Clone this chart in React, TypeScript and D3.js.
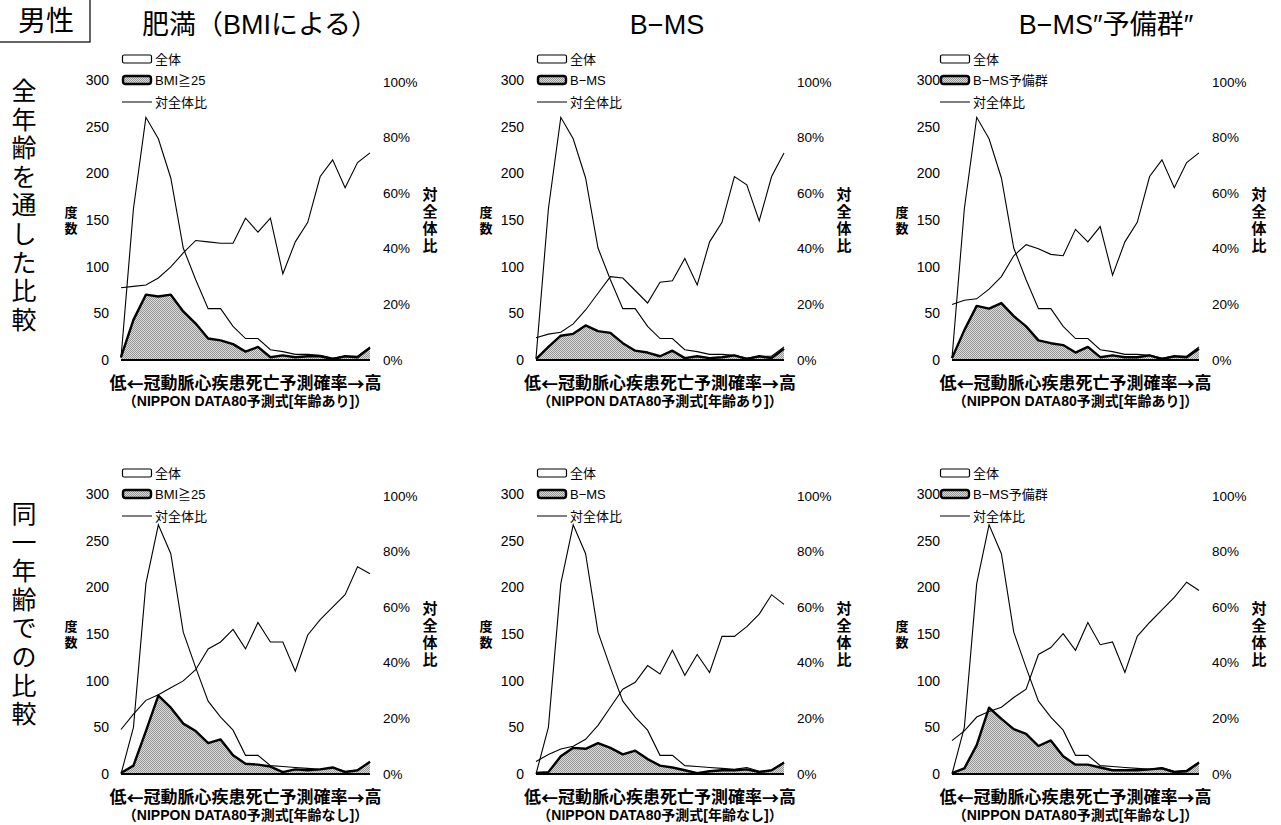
import React, { useEffect, useRef } from 'react';
import * as d3 from 'd3';

// risk bins (low -> high predicted CHD death probability)
const riskBins = [1, 2, 3, 4, 5, 6, 7, 8, 9, 10, 11, 12, 13, 14, 15, 16, 17, 18, 19, 20, 21];

const leftTicks = [0, 50, 100, 150, 200, 250, 300];
const rightTicks = [0, 20, 40, 60, 80, 100];

// 全年齢を通した比較 (with age)
const totalWithAge = [2, 162, 260, 237, 195, 120, 86, 55, 55, 36, 23, 23, 11, 9, 6, 6, 5, 2, 4, 4, 14];
const bmiWithAge = [3, 43, 70, 68, 70, 52, 39, 23, 21, 17, 9, 14, 3, 5, 3, 4, 4, 1, 4, 3, 13];
const bmiRatioWithAge = [26, 26.5, 27, 29.5, 33.5, 38.5, 43, 42.5, 42, 42, 51, 46, 51, 31, 42.5, 49.5, 66, 72, 62, 71, 74.5];
const bmsWithAge = [1, 14, 26, 28, 37, 31, 29, 18, 10, 8, 4, 10, 2, 4, 2, 3, 5, 1, 4, 2, 12];
const bmsRatioWithAge = [8, 9.3, 10, 13, 18, 24, 30, 29.5, 25, 20.5, 28, 28.5, 36.5, 27, 42.5, 49.5, 66, 63, 50, 66, 74.5];
const preWithAge = [2, 32, 58, 55, 61, 47, 36, 21, 18, 16, 8, 14, 3, 5, 3, 3, 5, 1, 4, 3, 12];
const preRatioWithAge = [20, 21.5, 22, 25.5, 30, 37.5, 41.5, 40, 38, 37.5, 47, 42.5, 48, 30.5, 42.5, 49.5, 66, 72, 62, 71, 74.5];

// 同一年齢での比較 (without age)
const totalNoAge = [0, 50, 204, 267, 236, 152, 114, 78, 61, 47, 20, 20, 9, 8, 7, 6, 5, 7, 3, 4, 13];
const bmiNoAge = [1, 9, 46, 84, 71, 54, 46, 33, 37, 20, 11, 10, 8, 2, 5, 4, 5, 7, 2, 4, 13];
const bmiRatioNoAge = [16, 21.5, 26.5, 28.5, 31, 33.5, 37.5, 45, 47.5, 52, 45, 54.5, 47.5, 47.5, 37, 50, 55.5, 60, 64.5, 74.5, 72];
const bmsNoAge = [1, 2, 19, 28, 27, 33, 28, 21, 25, 16, 9, 7, 4, 1, 3, 4, 4, 5, 2, 4, 12];
const bmsRatioNoAge = [4.5, 7, 9, 10, 12.5, 17.5, 24, 30.5, 33, 39, 36, 44.5, 35.5, 43, 36.5, 49.5, 49.5, 53, 57.5, 64.5, 61];
const preNoAge = [1, 6, 31, 71, 59, 48, 43, 30, 36, 19, 10, 10, 7, 4, 4, 4, 5, 6, 2, 3, 12];
const preRatioNoAge = [12, 15.5, 20.5, 22.5, 24, 27.5, 30.5, 43, 45.5, 50.5, 44.5, 54.5, 46.5, 47.5, 36.5, 49.5, 54.5, 59, 63.5, 69, 66];

const columnTitles = ['肥満（BMIによる）', 'B−MS', 'B−MS″予備群″'];
const subgroupNames = ['BMI≧25', 'B−MS', 'B−MS予備群'];
const rowTitles = ['全年齢を通した比較', '同一年齢での比較'];
const xTitleParts = ['低', '←', '冠動脈心疾患死亡予測確率', '→', '高'];
const xNotes = ['（NIPPON DATA80予測式[年齢あり]）', '（NIPPON DATA80予測式[年齢なし]）'];

const FONT = "'Liberation Sans', 'Noto Sans CJK JP', sans-serif";
const JP = "'Noto Sans CJK JP', sans-serif";

const App = () => {
  const svgRef = useRef<SVGSVGElement>(null);

  useEffect(() => {
    const width = 1281;
    const height = 825;
    const svg = d3.select(svgRef.current);
    svg.selectAll('*').remove();
    svg.attr('viewBox', [0, 0, width, height]);

    // dotted grey fill like the printed screen tone
    const pat = svg.append('defs').append('pattern')
      .attr('id', 'tone')
      .attr('width', 2).attr('height', 2)
      .attr('patternUnits', 'userSpaceOnUse');
    pat.append('rect').attr('width', 2).attr('height', 2).attr('fill', '#dcdcdc');
    pat.append('rect').attr('width', 1).attr('height', 1).attr('fill', '#959595');
    pat.append('rect').attr('x', 1).attr('y', 1).attr('width', 1).attr('height', 1).attr('fill', '#959595');

    // header
    svg.append('rect')
      .attr('x', -2).attr('y', -2).attr('width', 92).attr('height', 44)
      .attr('fill', 'none').attr('stroke', '#000').attr('stroke-width', 1.2);
    svg.append('text')
      .attr('x', 46).attr('y', 19)
      .attr('text-anchor', 'middle').attr('dominant-baseline', 'central')
      .style('font-family', JP).style('font-size', '28px')
      .text('男性');

    const titleX = [260, 667, 1106];
    columnTitles.forEach((t, i) => {
      svg.append('text')
        .attr('x', titleX[i]).attr('y', 25)
        .attr('text-anchor', 'middle').attr('dominant-baseline', 'central')
        .style('font-family', FONT).style('font-size', '27px')
        .text(t);
    });

    // row titles (vertical)
    const rowTop = [77, 500];
    rowTitles.forEach((t, r) => {
      Array.from(t).forEach((ch, k) => {
        svg.append('text')
          .attr('x', 24).attr('y', rowTop[r] + 14 + k * 28.6)
          .attr('text-anchor', 'middle').attr('dominant-baseline', 'central')
          .style('font-family', FONT).style('font-size', '25px')
          .text(ch);
      });
    });

    const cols = [
      { x0: 121, x1: 370, legendX: 122 },
      { x0: 536, x1: 784, legendX: 537 },
      { x0: 952, x1: 1199, legendX: 940 },
    ];
    const rows = [{ y0: 360 }, { y0: 774 }];

    const panels = [
      { r: 0, c: 0, total: totalWithAge, sub: bmiWithAge, ratio: bmiRatioWithAge },
      { r: 0, c: 1, total: totalWithAge, sub: bmsWithAge, ratio: bmsRatioWithAge },
      { r: 0, c: 2, total: totalWithAge, sub: preWithAge, ratio: preRatioWithAge },
      { r: 1, c: 0, total: totalNoAge, sub: bmiNoAge, ratio: bmiRatioNoAge },
      { r: 1, c: 1, total: totalNoAge, sub: bmsNoAge, ratio: bmsRatioNoAge },
      { r: 1, c: 2, total: totalNoAge, sub: preNoAge, ratio: preRatioNoAge },
    ];

    panels.forEach(p => {
      const { x0, x1, legendX } = cols[p.c];
      const { y0 } = rows[p.r];
      const g = svg.append('g');

      const x = d3.scalePoint<number>().domain(riskBins).range([x0, x1]);
      const y = d3.scaleLinear().domain([0, 300]).range([y0, y0 - 280]);
      const yr = d3.scaleLinear().domain([0, 100]).range([y0, y0 - 278]);

      const area = (vals: number[]) => d3.area<number>()
        .x((_, i) => x(riskBins[i])!)
        .y0(y0)
        .y1(d => y(d))(vals);
      const line = (vals: number[], sc: d3.ScaleLinear<number, number>) => d3.line<number>()
        .x((_, i) => x(riskBins[i])!)
        .y(d => sc(d))(vals);

      // total (white) area
      g.append('path').attr('d', area(p.total)).attr('fill', '#fff');
      // subgroup toned area
      g.append('path').attr('d', area(p.sub)).attr('fill', 'url(#tone)');
      g.append('path').attr('d', line(p.sub, y))
        .attr('fill', 'none').attr('stroke', '#000').attr('stroke-width', 2.4)
        .attr('stroke-linejoin', 'round');
      g.append('path').attr('d', line(p.total, y))
        .attr('fill', 'none').attr('stroke', '#000').attr('stroke-width', 1.1);
      // ratio line
      g.append('path').attr('d', line(p.ratio, yr))
        .attr('fill', 'none').attr('stroke', '#000').attr('stroke-width', 1.1);

      // baseline
      g.append('line')
        .attr('x1', x0).attr('x2', x1).attr('y1', y0).attr('y2', y0)
        .attr('stroke', '#000').attr('stroke-width', 2.2);

      // left ticks
      g.append('g').selectAll('text').data(leftTicks).join('text')
        .attr('x', x0 - 12).attr('y', d => y(d))
        .attr('text-anchor', 'end').attr('dominant-baseline', 'central')
        .style('font-family', FONT).style('font-size', '14px')
        .text(d => d);
      // right ticks
      g.append('g').selectAll('text').data(rightTicks).join('text')
        .attr('x', x1 + 13).attr('y', d => yr(d))
        .attr('dominant-baseline', 'central')
        .style('font-family', FONT).style('font-size', '13.5px')
        .text(d => `${d}%`);

      const mid = y0 - 140;
      // 度数
      Array.from('度数').forEach((ch, k) => {
        g.append('text')
          .attr('x', x0 - 50).attr('y', mid - 8 + k * 16)
          .attr('text-anchor', 'middle').attr('dominant-baseline', 'central')
          .style('font-family', FONT).style('font-size', '13px').style('font-weight', 'bold')
          .text(ch);
      });
      // 対全体比
      Array.from('対全体比').forEach((ch, k) => {
        g.append('text')
          .attr('x', x1 + 60).attr('y', mid - 25.5 + k * 17)
          .attr('text-anchor', 'middle').attr('dominant-baseline', 'central')
          .style('font-family', FONT).style('font-size', '15px').style('font-weight', 'bold')
          .text(ch);
      });

      // x titles
      const cx = (x0 + x1) / 2;
      const xt = g.append('text')
        .attr('x', cx).attr('y', y0 + 23)
        .attr('text-anchor', 'middle').attr('dominant-baseline', 'central')
        .style('font-family', FONT).style('font-size', '17px').style('font-weight', 'bold');
      xTitleParts.forEach(s => {
        const ts = xt.append('tspan').text(s);
        if (s === '←' || s === '→') ts.style('font-family', JP);
      });
      g.append('text')
        .attr('x', cx).attr('y', y0 + 41)
        .attr('text-anchor', 'middle').attr('dominant-baseline', 'central')
        .style('font-family', FONT).style('font-size', '14px').style('font-weight', 'bold')
        .text(xNotes[p.r]);

      // legend
      const ly = [y0 - 301, y0 - 280, y0 - 258];
      const lg = g.append('g');
      lg.append('rect')
        .attr('x', legendX + 0.5).attr('y', ly[0] - 4).attr('width', 29).attr('height', 8)
        .attr('rx', 1.5).attr('fill', '#fff').attr('stroke', '#000').attr('stroke-width', 1.2);
      lg.append('rect')
        .attr('x', legendX + 1).attr('y', ly[1] - 4).attr('width', 28).attr('height', 8)
        .attr('rx', 2.5).attr('fill', 'url(#tone)').attr('stroke', '#000').attr('stroke-width', 2.4);
      lg.append('line')
        .attr('x1', legendX).attr('x2', legendX + 30).attr('y1', ly[2]).attr('y2', ly[2])
        .attr('stroke', '#000').attr('stroke-width', 1);
      [ '全体', subgroupNames[p.c], '対全体比' ].forEach((t, k) => {
        lg.append('text')
          .attr('x', legendX + 33).attr('y', ly[k])
          .attr('dominant-baseline', 'central')
          .style('font-family', FONT).style('font-size', '13px')
          .text(t);
      });
    });
  }, []);

  return (
    <svg ref={svgRef} width={1281} height={825}
      style={{ position: 'absolute', left: 0, top: 0, background: '#fff' }}></svg>
  );
};

export default App;
